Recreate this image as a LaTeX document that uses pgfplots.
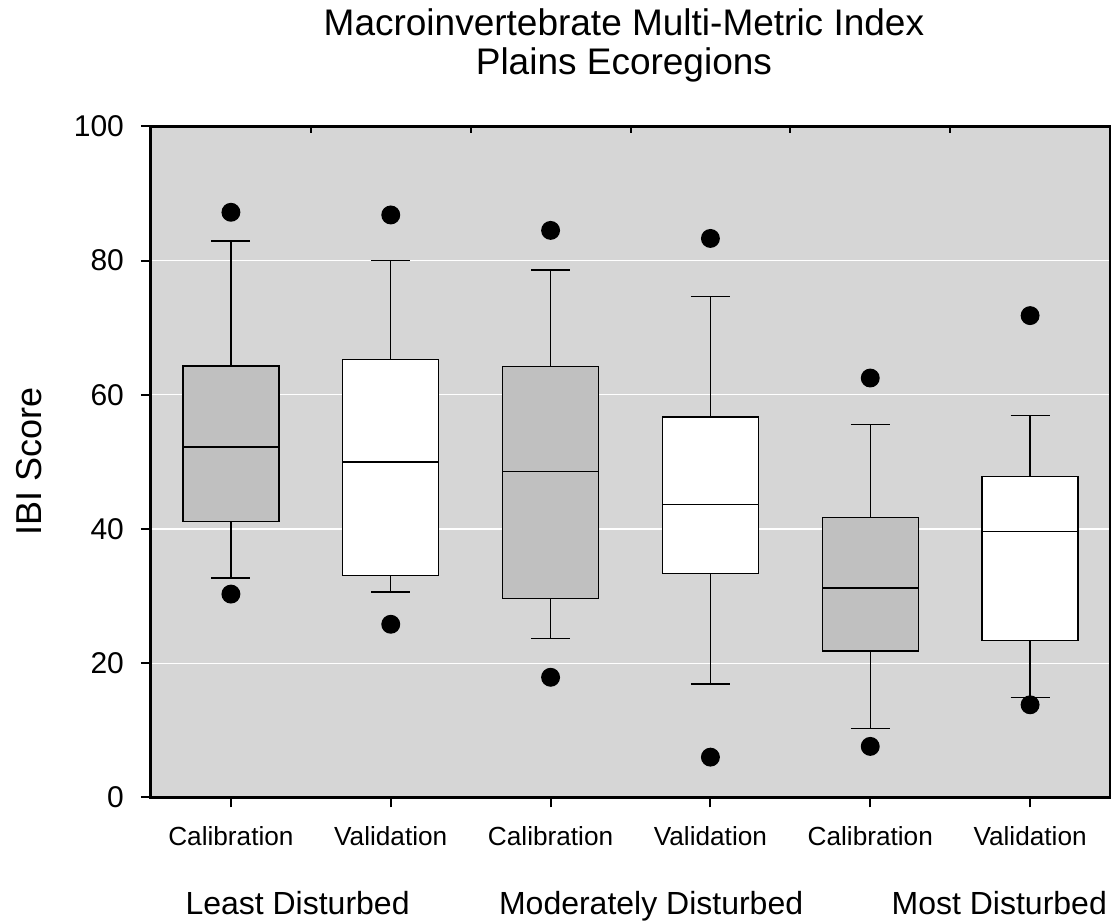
\documentclass[border=0pt]{standalone}
\usepackage{fontspec}
\setmainfont{Liberation Sans}
\usepackage{pgfplots}
\pgfplotsset{compat=1.18}
\usepgfplotslibrary{statistics}

\definecolor{bggray}{HTML}{D6D6D6}
\definecolor{calgray}{HTML}{C0C0C0}

\begin{document}
\begin{tikzpicture}
\begin{axis}[
    name=ax,
    width=479.5pt, height=335.5pt, scale only axis,
    xmin=0.5, xmax=6.5, ymin=0, ymax=100,
    axis background/.style={fill=bggray},
    axis line style={line width=1.5pt},
    xtick={1,...,6},
    xticklabels={Calibration,Validation,Calibration,Validation,Calibration,Validation},
    xtick pos=lower, ytick pos=left,
    ytick={0,20,...,100},
    tick align=outside,
    major tick length=5pt,
    tick style={line width=1pt, black},
    ymajorgrids, grid style={white, line width=0.6pt},
    extra x ticks={1.5,2.5,3.5,4.5,5.5},
    extra x tick labels={},
    extra x tick style={xtick pos=upper, tick align=inside, major tick length=3.5pt},
    /pgf/number format/assume math mode=true,
    yticklabel style={font=\fontsize{15}{18}\selectfont, xshift=-5pt},
    xticklabel style={font=\fontsize{13.1}{16}\selectfont, yshift=-6pt},
    ylabel={IBI Score},
    every axis y label/.style={at={(rel axis cs:0,0.5)}, xshift=-54.5pt, rotate=90,
        anchor=base, font=\fontsize{18}{21}\selectfont},
    clip=false,
    boxplot/draw direction=y,
    boxplot/box extend=0.6,
    boxplot/whisker extend=0.244,
    cal/.style={black, line width=0.65pt, fill=calgray, mark=*, mark size=4.4pt,
        mark options={fill=black, draw=black}},
    val/.style={black, line width=0.65pt, fill=white, mark=*, mark size=4.4pt,
        mark options={fill=black, draw=black}},
]
% Least Disturbed
\addplot[cal, boxplot prepared={draw position=1, lower whisker=32.7,
    lower quartile=41.1, median=52.2, upper quartile=64.3, upper whisker=82.9}]
    table[row sep=\\, y index=0] {y\\ 87.2\\ 30.3\\};
\addplot[val, boxplot prepared={draw position=2, lower whisker=30.6,
    lower quartile=33.1, median=50.0, upper quartile=65.3, upper whisker=80.0}]
    table[row sep=\\, y index=0] {y\\ 86.8\\ 25.8\\};
% Moderately Disturbed
\addplot[cal, boxplot prepared={draw position=3, lower whisker=23.7,
    lower quartile=29.6, median=48.6, upper quartile=64.2, upper whisker=78.6}]
    table[row sep=\\, y index=0] {y\\ 84.5\\ 17.9\\};
\addplot[val, boxplot prepared={draw position=4, lower whisker=16.9,
    lower quartile=33.4, median=43.7, upper quartile=56.7, upper whisker=74.7}]
    table[row sep=\\, y index=0] {y\\ 83.3\\ 6.0\\};
% Most Disturbed
\addplot[cal, boxplot prepared={draw position=5, lower whisker=10.3,
    lower quartile=21.8, median=31.2, upper quartile=41.7, upper whisker=55.6}]
    table[row sep=\\, y index=0] {y\\ 62.5\\ 7.6\\};
\addplot[val, boxplot prepared={draw position=6, lower whisker=14.9,
    lower quartile=23.4, median=39.6, upper quartile=47.8, upper whisker=56.9}]
    table[row sep=\\, y index=0] {y\\ 71.8\\ 13.8\\};

\node[anchor=base, yshift=-58.5pt, font=\fontsize{16}{19}\selectfont] at (axis cs:1.417,0) {Least Disturbed};
\node[anchor=base, yshift=-58.5pt, font=\fontsize{16}{19}\selectfont] at (axis cs:3.629,0) {Moderately Disturbed};
\node[anchor=base, yshift=-58.5pt, font=\fontsize{16}{19}\selectfont] at (axis cs:5.807,0) {Most Disturbed};
\end{axis}

\node[anchor=base, font=\fontsize{18.5}{22}\selectfont] at ([xshift=-3.3pt, yshift=45.2pt]ax.north) {Macroinvertebrate Multi-Metric Index};
\node[anchor=base, font=\fontsize{18.5}{22}\selectfont] at ([xshift=-3.3pt, yshift=26pt]ax.north) {Plains Ecoregions};

\pgfresetboundingbox
\path ([shift={(-75.5pt,-63.2pt)}]ax.south west) rectangle ([shift={(0.5pt,63.2pt)}]ax.north east);
\end{tikzpicture}
\end{document}
